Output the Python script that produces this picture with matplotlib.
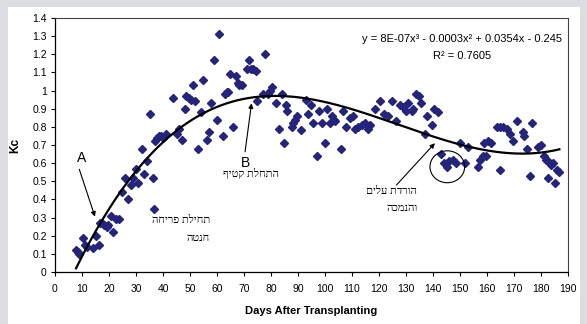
import matplotlib
matplotlib.use("Agg")
import matplotlib.pyplot as plt
from matplotlib.patches import Rectangle, Ellipse
import numpy as np

plt.rcParams['font.family'] = ['Liberation Sans', 'DejaVu Sans']

# Kc measurements vs days after transplanting
days = [7.8, 8.5, 9.0, 10.2, 11.1, 12.0, 14.0, 15.0, 16.2, 16.8, 17.5, 18.3, 19.2, 19.8,
        20.6, 21.6, 22.6, 23.8, 24.7, 25.9, 27.0, 28.0, 29.0, 30.0, 30.9, 32.1, 33.1, 34.0,
        35.1, 36.2, 36.8, 37.2, 37.8, 38.6, 39.4, 40.0, 41.2, 43.8, 45.0, 45.9, 46.9, 48.1,
        48.6, 49.6, 50.4, 51.2, 52.0, 53.1, 54.1, 54.9, 56.2, 57.2, 57.8, 59.0, 59.9, 60.9,
        62.1, 63.0, 63.6, 64.2, 64.8, 65.8, 66.9, 67.6, 68.3, 69.1, 71.0, 71.9, 72.6, 73.4,
        74.4, 74.9, 77.2, 77.8, 79.0, 79.7, 80.5, 81.9, 83.1, 84.0, 84.8, 85.5, 86.1, 87.6,
        88.2, 89.0, 89.6, 91.1, 93.0, 93.8, 94.7, 95.7, 96.9, 97.9, 98.8, 100.0, 100.9, 101.9,
        102.6, 103.2, 103.8, 105.9, 106.8, 107.8, 109.3, 110.2, 111.1, 112.3, 113.6, 114.8,
        116.0, 116.7, 118.5, 120.4, 122.0, 123.2, 125.0, 126.3, 127.8, 129.0, 130.0, 130.9,
        132.1, 132.7, 133.7, 134.9, 135.4, 137.0, 137.9, 139.5, 140.5, 141.7, 142.9, 144.0,
        145.2, 146.0, 147.3, 148.5, 150.0, 151.9, 153.0, 156.8, 157.4, 158.4, 159.0, 159.6,
        160.5, 161.4, 163.6, 164.8, 164.8, 166.0, 167.3, 168.5, 169.8, 171.0, 173.5, 173.8,
        174.7, 175.9, 176.5, 179.0, 179.9, 181.1, 181.7, 182.3, 182.7, 183.7, 184.6, 185.2,
        185.8, 186.8]
kc = [0.12, 0.11, 0.10, 0.19, 0.15, 0.14, 0.13, 0.20, 0.15, 0.27, 0.27, 0.26, 0.25, 0.26,
      0.31, 0.22, 0.29, 0.29, 0.44, 0.52, 0.40, 0.48, 0.52, 0.57, 0.49, 0.68, 0.54, 0.61,
      0.87, 0.52, 0.35, 0.72, 0.74, 0.75, 0.75, 0.74, 0.76, 0.96, 0.76, 0.79, 0.73, 0.90,
      0.97, 0.96, 0.95, 1.03, 0.94, 0.68, 0.88, 1.06, 0.73, 0.77, 0.93, 1.17, 0.84, 1.31,
      0.75, 0.98, 0.99, 0.99, 1.09, 0.80, 1.08, 1.04, 1.03, 1.03, 1.12, 1.17, 1.12, 1.12,
      1.11, 0.94, 0.98, 1.20, 0.98, 1.00, 1.02, 0.93, 0.79, 0.98, 0.71, 0.92, 0.89, 0.80,
      0.82, 0.84, 0.86, 0.78, 0.95, 0.87, 0.92, 0.82, 0.64, 0.89, 0.82, 0.71, 0.90, 0.82,
      0.86, 0.84, 0.83, 0.68, 0.89, 0.80, 0.85, 0.86, 0.79, 0.80, 0.81, 0.82,
      0.79, 0.81, 0.90, 0.94, 0.87, 0.86, 0.94, 0.83, 0.92, 0.91, 0.89, 0.93,
      0.89, 0.90, 0.98, 0.97, 0.93, 0.76, 0.86, 0.81, 0.90, 0.88, 0.65, 0.60,
      0.58, 0.61, 0.62, 0.60, 0.71, 0.60, 0.69, 0.58, 0.62, 0.64, 0.71, 0.64,
      0.72, 0.71, 0.80, 0.56, 0.80, 0.80, 0.79, 0.76, 0.72, 0.83, 0.77, 0.75,
      0.68, 0.53, 0.82, 0.69, 0.70, 0.64, 0.62, 0.62, 0.52, 0.59, 0.60, 0.49,
      0.56, 0.55]

x_ticks = list(range(0, 191, 10))
y_ticks = [0, 0.1, 0.2, 0.3, 0.4, 0.5, 0.6, 0.7, 0.8, 0.9, 1, 1.1, 1.2, 1.3, 1.4]

equation = "y = 8E-07x³ - 0.0003x² + 0.0354x - 0.245"
r2_text = "R² = 0.7605"

# Hebrew notes (logical order); reversed for drawing since matplotlib has no bidi
note_a = ["תחילת פריחה", "חנטה"]
note_b = ["התחלת קטיף"]
note_c = ["הורדת עלים", "והנמכה"]


def rtl(s):
    return s[::-1]


heb_font = ['Liberation Serif', 'DejaVu Sans']

fig = plt.figure(figsize=(5.87, 3.24), dpi=100, facecolor='#dcdde0')
fig.patches.append(Rectangle((8 / 587, 0), 572 / 587, 1 - 7 / 324,
                             transform=fig.transFigure, facecolor='white',
                             edgecolor='none', zorder=-10))
ax = fig.add_axes([55 / 587, 1 - 272 / 324, 513 / 587, 254 / 324])
ax.set_facecolor('white')

ax.plot(days, kc, linestyle='none', marker='D', markersize=4.4,
        color='#24247c', zorder=3)

# cubic trendline over the data range
coef = np.polyfit(days, kc, 3)
xs = np.linspace(min(days), max(days), 300)
ax.plot(xs, np.polyval(coef, xs), color='black', lw=1.6, zorder=4)

ax.set_xlim(0, 190)
ax.set_ylim(0, 1.4)
ax.set_xticks(x_ticks)
ax.set_yticks(y_ticks)
ax.set_yticklabels([f"{v:g}" for v in y_ticks])
ax.tick_params(direction='out', length=3, width=0.8, labelsize=7.5, pad=3)
ax.tick_params(axis='x', pad=6)
for side in ['left', 'bottom']:
    ax.spines[side].set_color('black')
    ax.spines[side].set_linewidth(0.9)
for side in ['top', 'right']:
    ax.spines[side].set_color('#444444')
    ax.spines[side].set_linewidth(0.8)

ax.set_xlabel('Days After Transplanting', fontsize=8, fontweight='bold', labelpad=8)
ax.set_ylabel('Kc', fontsize=8.5, fontweight='bold', labelpad=8)

ax.text(150.6, 1.284, equation, ha='center', va='center', fontsize=8)
ax.text(150.6, 1.192, r2_text, ha='center', va='center', fontsize=8)

arrow = dict(arrowstyle='-|>', color='black', lw=0.8, mutation_scale=7,
             shrinkA=0, shrinkB=0)

# A - start of flowering
ax.text(10.0, 0.628, 'A', ha='center', va='center', fontsize=10)
ax.annotate('', xy=(14.8, 0.305), xytext=(9.0, 0.566), arrowprops=arrow)
ax.text(57.4, 0.283, rtl(note_a[0]), ha='right', va='center', fontsize=8, family=heb_font)
ax.text(57.4, 0.187, rtl(note_a[1]), ha='right', va='center', fontsize=8, family=heb_font)

# B - start of harvest
ax.annotate('', xy=(72.8, 0.93), xytext=(70.4, 0.663), arrowprops=arrow)
ax.text(83.1, 0.544, rtl(note_b[0]), ha='right', va='center', fontsize=8, family=heb_font)
ax.text(70.4, 0.60, 'B', ha='center', va='center', fontsize=10)

# circled drop after leaf removal
ax.add_patch(Ellipse((145.3, 0.58), 12.85, 0.176, fill=False, edgecolor='black',
                     lw=0.8, zorder=5))
ax.annotate('', xy=(140.7, 0.71), xytext=(126.5, 0.48), arrowprops=arrow)
ax.text(134.2, 0.443, rtl(note_c[0]), ha='right', va='center', fontsize=8, family=heb_font)
ax.text(134.2, 0.351, rtl(note_c[1]), ha='right', va='center', fontsize=8, family=heb_font)

fig.savefig('out.png', dpi=100, facecolor=fig.get_facecolor())
